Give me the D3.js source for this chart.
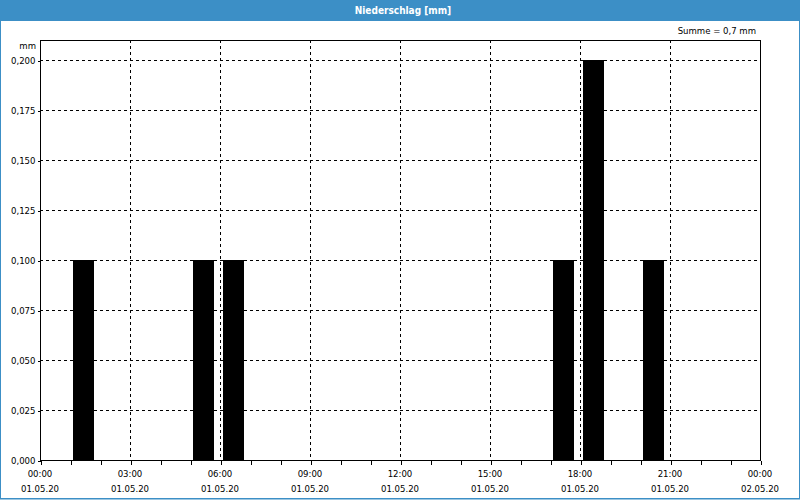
<!DOCTYPE html>
<html><head><meta charset="utf-8">
<script src="https://cdn.jsdelivr.net/npm/d3@7/dist/d3.min.js"></script>
<style>
html,body{margin:0;padding:0;background:#fff;}
svg{display:block;font-family:"DejaVu Sans Condensed","DejaVu Sans",Verdana,sans-serif;}
</style></head>
<body>
<svg id="c" width="800" height="500"></svg>
<script>
const title = "Niederschlag [mm]";
const sumLabel = "Summe = 0,7 mm";
const unitLabel = "mm";
// hour index of each interval start (01.05.20), and precipitation in mm
const hours = [1, 5, 6, 17, 18, 20];
const values = [0.1, 0.1, 0.1, 0.1, 0.2, 0.1];
const yTicks = [0, 0.025, 0.05, 0.075, 0.1, 0.125, 0.15, 0.175, 0.2];
const xTickHours = [0, 3, 6, 9, 12, 15, 18, 21, 24];
const xTimeLabels = ["00:00","03:00","06:00","09:00","12:00","15:00","18:00","21:00","00:00"];
const xDateLabels = ["01.05.20","01.05.20","01.05.20","01.05.20","01.05.20","01.05.20","01.05.20","01.05.20","02.05.20"];

const svg = d3.select("#c");
const W = 800, H = 500;
const blue = "#3c8fc6";
const m = {l:40, r:40, t:40, b:40};
const x = d3.scaleLinear().domain([0,24]).range([m.l, W-m.r]);
const y = d3.scaleLinear().domain([0,0.21]).range([H-m.b, m.t]);

// frame
svg.append("rect").attr("x",0.5).attr("y",0.5).attr("width",W-1).attr("height",H-1.5)
  .attr("fill","#fff").attr("stroke",blue).attr("stroke-width",1);
svg.append("line").attr("x1",0).attr("x2",W).attr("y1",H-1.5).attr("y2",H-1.5).attr("stroke",blue).attr("stroke-width",1);
svg.append("rect").attr("x",0).attr("y",0).attr("width",W).attr("height",21).attr("fill",blue);
svg.append("text").attr("x",W/2+3).attr("y",14).attr("text-anchor","middle")
  .attr("fill","#fff").attr("font-weight","bold").attr("font-size","10px").text(title);
svg.append("text").attr("x",756).attr("y",34).attr("text-anchor","end")
  .attr("fill","#000").attr("font-size","9.5px").text(sumLabel);

const g = svg.append("g");
// grid
const dash = "3,3";
g.selectAll(".hg").data(yTicks.filter(d=>d>0)).join("line")
  .attr("x1",m.l).attr("x2",W-m.r).attr("y1",d=>Math.round(y(d))+0.5).attr("y2",d=>Math.round(y(d))+0.5)
  .attr("stroke","#000").attr("stroke-dasharray",dash).attr("shape-rendering","crispEdges");
g.selectAll(".vg").data(xTickHours.filter(d=>d>0&&d<24)).join("line")
  .attr("x1",d=>Math.round(x(d))+0.5).attr("x2",d=>Math.round(x(d))+0.5).attr("y1",m.t).attr("y2",H-m.b)
  .attr("stroke","#000").attr("stroke-dasharray",dash).attr("shape-rendering","crispEdges");

// bars
g.selectAll(".bar").data(hours.map((h,i)=>({h,v:values[i]}))).join("rect")
  .attr("x",d=>x(d.h)+3).attr("width",d=>(x(d.h+1)-x(d.h))*0.7)
  .attr("y",d=>y(d.v)).attr("height",d=>y(0)-y(d.v))
  .attr("fill","#000").attr("shape-rendering","crispEdges");

// border of plot
g.append("rect").attr("x",m.l+0.5).attr("y",m.t+0.5).attr("width",W-m.l-m.r).attr("height",H-m.t-m.b)
  .attr("fill","none").attr("stroke","#000").attr("shape-rendering","crispEdges");

// x axis ticks (hourly)
const xAxis = d3.axisBottom(x).tickValues(d3.range(0,25)).tickSize(4).tickFormat("");
const xa = svg.append("g").attr("transform",`translate(0.5,${H-m.b+0.5})`).call(xAxis);
xa.select(".domain").remove();
xa.selectAll("line").attr("stroke","#000").attr("shape-rendering","crispEdges");
// x labels
const xl = svg.append("g");
xl.selectAll(".t1").data(xTickHours).join("text")
  .attr("x",d=>x(d)).attr("y",477).attr("text-anchor","middle").attr("font-size","9.5px").attr("fill","#000")
  .text((d,i)=>xTimeLabels[i]);
xl.selectAll(".t2").data(xTickHours).join("text")
  .attr("x",d=>x(d)).attr("y",492).attr("text-anchor","middle").attr("font-size","9.5px").attr("fill","#000")
  .text((d,i)=>xDateLabels[i]);

// y axis
const fmt = d => d3.format(".3f")(d).replace(".",",");
const yAxis = d3.axisLeft(y).tickValues(yTicks).tickSize(3).tickPadding(2).tickFormat(fmt);
const ya = svg.append("g").attr("transform",`translate(${m.l+0.5},0.5)`).call(yAxis);
ya.select(".domain").remove();
ya.selectAll("line").attr("stroke","#000").attr("shape-rendering","crispEdges");
ya.selectAll("text").attr("font-size","9.5px").attr("font-family","DejaVu Sans Condensed, DejaVu Sans, sans-serif").attr("fill","#000");
svg.append("text").attr("x",36).attr("y",49).attr("text-anchor","end").attr("font-size","9.5px").text(unitLabel);
</script>
</body></html>
